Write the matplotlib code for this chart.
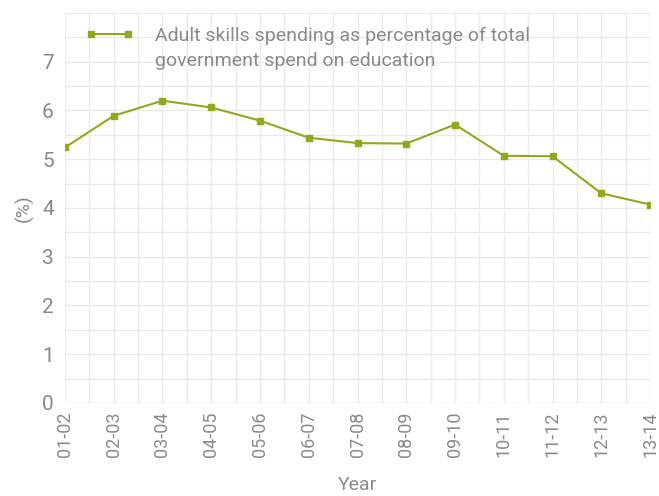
import matplotlib
matplotlib.use('Agg')
import matplotlib.pyplot as plt
from matplotlib.ticker import MultipleLocator
from matplotlib.legend_handler import HandlerLine2D

years = ['01-02', '02-03', '03-04', '04-05', '05-06', '06-07', '07-08',
         '08-09', '09-10', '10-11', '11-12', '12-13', '13-14']
spend_pct = [5.24, 5.89, 6.20, 6.06, 5.79, 5.44, 5.33,
             5.32, 5.71, 5.07, 5.06, 4.30, 4.07]

green = '#93a81e'
grey = '#8a8a8a'
plt.rcParams['font.family'] = ['Roboto', 'DejaVu Sans']


class TopLineHandler(HandlerLine2D):
    # put the legend line next to the first text line instead of the middle
    def create_artists(self, legend, orig_handle, xdescent, ydescent,
                       width, height, fontsize, trans):
        return super().create_artists(legend, orig_handle, xdescent,
                                      ydescent - 20, width, height,
                                      fontsize, trans)


fig = plt.figure(figsize=(6.59, 4.96), dpi=100)
ax = fig.add_axes([0.0986, 0.1875, 0.8878, 0.7865])

x = list(range(len(years)))
line, = ax.plot(x, spend_pct, color=green, lw=1.5, marker='s', markersize=5,
                label='Adult skills spending as percentage of total\ngovernment spend on education')

ax.set_xlim(0, len(years) - 1)
ax.set_ylim(0, 8)
ax.set_xticks(x)
ax.set_xticklabels(years, rotation=90)
ax.xaxis.set_minor_locator(MultipleLocator(0.5))
ax.set_yticks(range(0, 8))
ax.yaxis.set_minor_locator(MultipleLocator(0.5))
ax.grid(which='both', color='#ebebeb', lw=1)
ax.set_axisbelow(True)
for s in ax.spines.values():
    s.set_visible(False)
ax.tick_params(which='both', length=0)
ax.tick_params(axis='y', labelsize=15, colors=grey, pad=8)
ax.tick_params(axis='x', labelsize=13, colors=grey, pad=6)

ax.set_xlabel('Year', color=grey, fontsize=14, labelpad=14)
ax.set_ylabel('(%)', color=grey, fontsize=14, labelpad=6)

leg = ax.legend(loc='upper left', bbox_to_anchor=(0.005, 1.01), frameon=False,
                fontsize=14, numpoints=2, handlelength=2.5, handletextpad=1.1,
                labelcolor=grey, handler_map={line: TopLineHandler()})
for t in leg.get_texts():
    t.set_linespacing(1.5)

fig.savefig('out.png', dpi=100)
